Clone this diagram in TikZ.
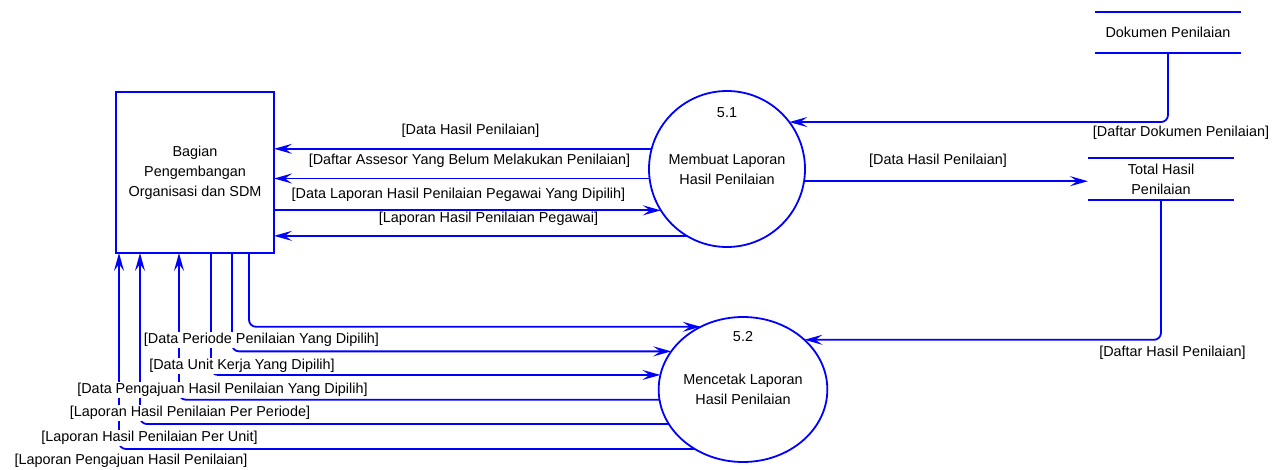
\documentclass[tikz,border=0pt]{standalone}
\usepackage{fontspec}
\setmainfont{Liberation Sans}
\usetikzlibrary{arrows.meta,shapes.geometric}
\definecolor{dfdblue}{RGB}{0,0,255}
\begin{document}
\begin{tikzpicture}[x=1pt,y=-1pt,
  font=\fontsize{14.4}{20}\selectfont,
  line/.style={draw=dfdblue, line width=1.8pt},
  flow/.style={line, -{Stealth[length=18pt,width=10pt,inset=7pt]}},
  roundbend/.style={rounded corners=7pt},
  shapebox/.style={draw=dfdblue, line width=1.8pt, inner sep=0pt, outer sep=0pt, align=center},
  store/.style={inner sep=0pt, outer sep=0pt, minimum width=146pt, align=center},
  lbl/.style={fill=white, inner sep=1pt}]
\useasboundingbox (0,0) rectangle (1272,470);

% entities / processes / stores
\node[shapebox, minimum width=158pt, minimum height=161pt] (box) at (195,172.5)
  {Bagian\\Pengembangan\\Organisasi dan SDM};
\node[shapebox, circle, minimum size=156pt] (c51) at (727,169)
  {Membuat Laporan\\Hasil Penilaian};
\node[shapebox, ellipse, minimum width=168pt, minimum height=145pt] (c52) at (743,389.5)
  {Mencetak Laporan\\Hasil Penilaian};
\node (n51) at (727,113) {5.1};
\node (n52) at (743,337) {5.2};
\node[store, minimum height=41pt] (s1) at (1168,32.5) {Dokumen Penilaian};
\node[store, minimum height=42pt] (s2) at (1161,179) {Total Hasil\\Penilaian};
\draw[line] (s1.north west) -- (s1.north east) (s1.south west) -- (s1.south east);
\draw[line] (s2.north west) -- (s2.north east) (s2.south west) -- (s2.south east);

% flows between box and 5.1
\draw[flow] (c51.165.1) -- (box.east |- c51.165.1);
\draw[flow] (c51.187.4) -- (box.east |- c51.187.4);
\draw[flow] (box.east |- c51.212.6) -- (c51.212.6);
\draw[flow] (c51.239.2) -- (box.east |- c51.239.2);

% stores and 5.1
\draw[flow, roundbend] (s1.south) |- (c51.37.05);
\draw[flow] (c51.351.9) -- (c51.351.9 -| s2.west);
\draw[flow, roundbend] (s2.south) |- (c52.39.9);

% flows between box and 5.2
\draw[flow, roundbend] ([xshift=133pt]box.south west) |- (c52.124.26);
\draw[flow, roundbend] ([xshift=116pt]box.south west) |- (c52.152.45);
\draw[flow, roundbend] ([xshift=95pt]box.south west) |- (c52.170.7);
\draw[flow, roundbend] (c52.187.9) -| ([xshift=63pt]box.south west);
\draw[flow, roundbend] (c52.205.0) -| ([xshift=24pt]box.south west);
\draw[flow, roundbend] (c52.231.1) -| ([xshift=3pt]box.south west);

% labels
\node[lbl] (l1) at (470.5,131) {[Data Hasil Penilaian]};
\node[lbl] (l2) at (469.5,161) {[Daftar Assesor Yang Belum Melakukan Penilaian]};
\node[lbl] (l3) at (458.5,195) {[Data Laporan Hasil Penilaian Pegawai Yang Dipilih]};
\node[lbl] (l4) at (488.5,219) {[Laporan Hasil Penilaian Pegawai]};
\node[lbl] (l5) at (938,161) {[Data Hasil Penilaian]};
\node[lbl] (l6) at (1181,133) {[Daftar Dokumen Penilaian]};
\node[lbl] (l7) at (1172.5,353) {[Daftar Hasil Penilaian]};
\node[lbl] (l8) at (261.5,340) {[Data Periode Penilaian Yang Dipilih]};
\node[lbl] (l9) at (242,366) {[Data Unit Kerja Yang Dipilih]};
\node[lbl] (l10) at (222.5,390) {[Data Pengajuan Hasil Penilaian Yang Dipilih]};
\node[lbl] (l11) at (190,413) {[Laporan Hasil Penilaian Per Periode]};
\node[lbl] (l12) at (149.5,438) {[Laporan Hasil Penilaian Per Unit]};
\node[lbl] (l13) at (131,461) {[Laporan Pengajuan Hasil Penilaian]};
\end{tikzpicture}
\end{document}
